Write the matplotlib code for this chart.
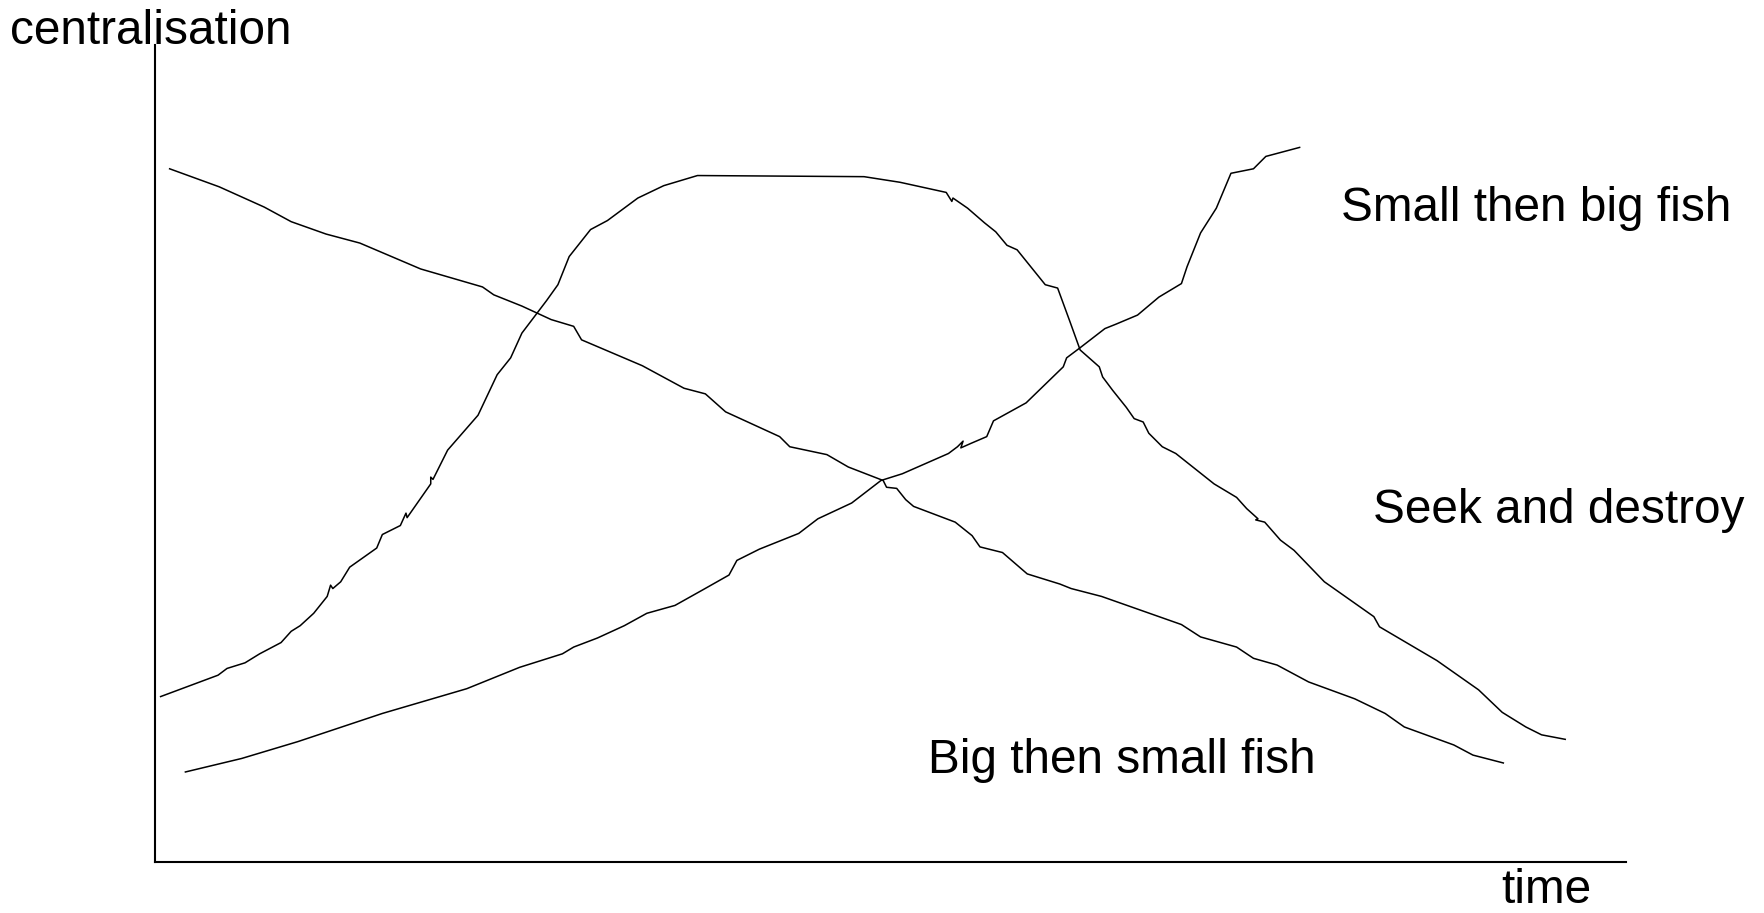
import matplotlib

matplotlib.use("Agg")
import numpy as np
from matplotlib import pyplot as plt

# sketch values (arbitrary units, origin at the axes corner)
big_then_small_t = [13, 57, 97, 121, 152, 182, 236, 291, 301, 326, 352, 372, 379, 433, 470, 489, 507,
                    555, 564, 597, 616, 647, 650, 659, 667, 674, 711, 726, 733, 753, 775, 804, 814, 841,
                    912, 929, 961, 976, 997, 1025, 1066, 1093, 1110, 1154, 1171, 1198]
big_then_small_c = [616, 600, 582, 569, 558, 550, 527, 511, 504, 494, 482, 476, 464, 441, 421, 416, 400,
                    378, 369, 362, 351, 339, 333, 332, 322, 316, 302, 290, 280, 275, 256, 247, 243, 236,
                    211, 200, 191, 181, 175, 160, 145, 132, 120, 104, 95, 88]

small_then_big_t = [27, 77, 127, 202, 277, 324, 362, 372, 393, 417, 437, 462, 487, 510, 517, 537, 572,
                    589, 619, 645, 664, 705, 713, 718, 716, 725, 739, 745, 774, 807, 810, 822, 844, 854,
                    873, 892, 912, 917, 929, 943, 956, 976, 987, 1017]
small_then_big_c = [80, 92, 107, 132, 154, 173, 185, 191, 199, 210, 221, 228, 242, 255, 268, 278, 292,
                    305, 319, 339, 345, 363, 369, 374, 368, 372, 378, 392, 408, 440, 448, 457, 474, 478,
                    486, 502, 514, 529, 559, 581, 612, 616, 627, 635]

seek_destroy_t = [5, 56, 64, 80, 93, 112, 121, 129, 141, 153, 156, 158, 165, 173, 197, 202, 218, 223,
                  224, 245, 245, 247, 251, 260, 287, 304, 316, 326, 348, 358, 368, 387, 402, 429, 452,
                  482, 630, 662, 703, 708, 709, 722, 737, 747, 757, 766, 791, 802, 813, 822, 839, 842,
                  851, 863, 870, 878, 883, 895, 907, 941, 961, 970, 980, 978, 986, 1000, 1012, 1039,
                  1083, 1088, 1139, 1176, 1197, 1218, 1232, 1253]
seek_destroy_c = [147, 166, 172, 177, 185, 195, 205, 210, 221, 236, 246, 243, 249, 262, 279, 291, 299,
                  310, 306, 336, 342, 340, 348, 366, 397, 433, 448, 470, 499, 513, 538, 562, 570, 590,
                  601, 610, 609, 604, 595, 587, 590, 581, 568, 560, 548, 544, 513, 510, 480, 455, 440,
                  431, 419, 404, 394, 391, 381, 369, 363, 336, 324, 314, 305, 304, 302, 286, 277, 249,
                  218, 209, 179, 153, 133, 120, 113, 109]

labels = ["Small then big fish", "Seek and destroy", "Big then small fish"]
label_t = [1054, 1082, 687]
label_c = [570, 301, 79]

plt.rcParams["font.family"] = ["Liberation Sans", "DejaVu Sans"]

fig = plt.figure(figsize=(17.64, 9.13), dpi=100)
ax = fig.add_axes([155 / 1764, 51 / 913, 1471 / 1764, 817 / 913])
ax.set_xlim(0, 1307)
ax.set_ylim(0, 726)

for t, c in [(big_then_small_t, big_then_small_c),
             (small_then_big_t, small_then_big_c),
             (seek_destroy_t, seek_destroy_c)]:
    ax.plot(np.array(t), np.array(c), color="black", lw=1.1, solid_joinstyle="round")

for name, x, y in zip(labels, label_t, label_c):
    ax.text(x, y, name, fontsize=34.4, ha="left", va="baseline")

ax.text(1196, -36, "time", fontsize=34.4, ha="left", va="baseline", clip_on=False)
ax.text(-129, 727, "centralisation", fontsize=34.4, ha="left", va="baseline", clip_on=False)

ax.spines["top"].set_visible(False)
ax.spines["right"].set_visible(False)
ax.spines["left"].set_linewidth(1.5)
ax.spines["bottom"].set_linewidth(1.5)
ax.set_xticks([])
ax.set_yticks([])

plt.savefig("out.png", dpi=100)
plt.close()
